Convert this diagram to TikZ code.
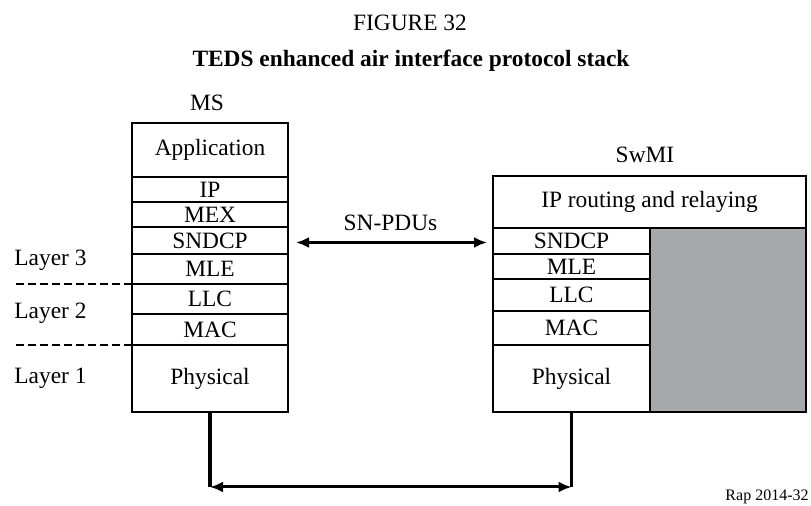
\documentclass[tikz,border=0pt]{standalone}
\usepackage{fontspec}
\setmainfont{Liberation Serif}
\usetikzlibrary{arrows.meta,positioning}

\definecolor{swgray}{RGB}{166,168,171}

\begin{document}
\begin{tikzpicture}[x=0.5pt, y=-0.5pt,
    lyr/.style={draw, line width=0.8pt, fill=white, font=\fontsize{11.7}{14}\selectfont,
                align=center, minimum width=78pt, inner sep=0pt, outer sep=0pt},
    swlyr/.style={lyr, minimum width=78.5pt},
    lbl/.style={font=\fontsize{11.7}{14}\selectfont, inner sep=0pt},
    link/.style={line width=1.8pt},
    dlink/.style={line width=1.5pt, {Latex[length=6.5pt,width=5.5pt]}-{Latex[length=6.5pt,width=5.5pt]}},
    sep/.style={dash pattern=on 4pt off 2pt, line width=0.8pt}
  ]
    \useasboundingbox (0,0) rectangle (811,506);

    % titles
    \node[lbl] (fig) at (410,23) {FIGURE 32};
    \node[lbl, font=\fontsize{11.7}{14}\selectfont\bfseries] (ttl) at (411,61) {TEDS enhanced air interface protocol stack};

    % MS stack
    \node[lbl] (mslbl) at (207,103) {MS};
    \node[lyr, minimum height=27pt, anchor=north west] (ms0) at (132,123) {Application};
    \node[lyr, minimum height=12.5pt, below=0pt of ms0] (ms1) {IP};
    \node[lyr, minimum height=12.5pt, below=0pt of ms1] (ms2) {MEX};
    \node[lyr, minimum height=13.5pt, below=0pt of ms2] (ms3) {SNDCP};
    \node[lyr, minimum height=15pt, below=0pt of ms3]   (ms4) {MLE};
    \node[lyr, minimum height=15pt, below=0pt of ms4]   (ms5) {LLC};
    \node[lyr, minimum height=15.5pt, below=0pt of ms5] (ms6) {MAC};
    \node[lyr, minimum height=33.5pt, below=0pt of ms6] (ms7) {Physical};

    % SwMI stack
    \node[lbl] (swlbl) at (645,155) {SwMI};
    \node[lyr, minimum width=156.5pt, minimum height=26pt, anchor=north west] (sw0) at (493,176) {IP routing and relaying};
    \node[swlyr, minimum height=13pt, anchor=north west] (sw1) at (sw0.south west) {SNDCP};
    \node[swlyr, minimum height=12.5pt, below=0pt of sw1] (sw2) {MLE};
    \node[swlyr, minimum height=16pt, below=0pt of sw2]   (sw3) {LLC};
    \node[swlyr, minimum height=17pt, below=0pt of sw3]   (sw4) {MAC};
    \node[swlyr, minimum height=33.5pt, below=0pt of sw4] (sw5) {Physical};
    \node[draw, line width=0.8pt, fill=swgray, minimum width=78pt, minimum height=92pt,
          inner sep=0pt, outer sep=0pt, anchor=north west] (swgr) at (sw1.north east) {};

    % layers
    \node[lbl, anchor=west] (l3) at (14,260) {Layer 3};
    \node[lbl, anchor=west] (l2) at (14,313) {Layer 2};
    \node[lbl, anchor=west] (l1) at (14,378) {Layer 1};
    \coordinate (dl) at (15,0);
    \draw[sep] (ms4.south west) -- (ms4.south west -| dl);
    \draw[sep] (ms6.south west) -- (ms6.south west -| dl);

    % peer link
    \draw[dlink, shorten <=4pt, shorten >=3pt] ([yshift=-1pt]ms3.east) -- ([yshift=-1pt]ms3.east -| sw1.west)
        node[lbl, midway, above=5pt] (pdu) {SN-PDUs};

    % radio link
    \coordinate (bot) at (0,487);
    \coordinate (bl) at (ms7.south |- bot);
    \coordinate (br) at (sw5.south |- bot);
    \draw[link] (ms7.south) -- (bl);
    \draw[link] (sw5.south) -- (br);
    \draw[dlink] (bl) -- (br);

    \node[lbl, font=\fontsize{8}{10}\selectfont, anchor=east] (rap) at (809,497) {Rap 2014-32};
\end{tikzpicture}
\end{document}
